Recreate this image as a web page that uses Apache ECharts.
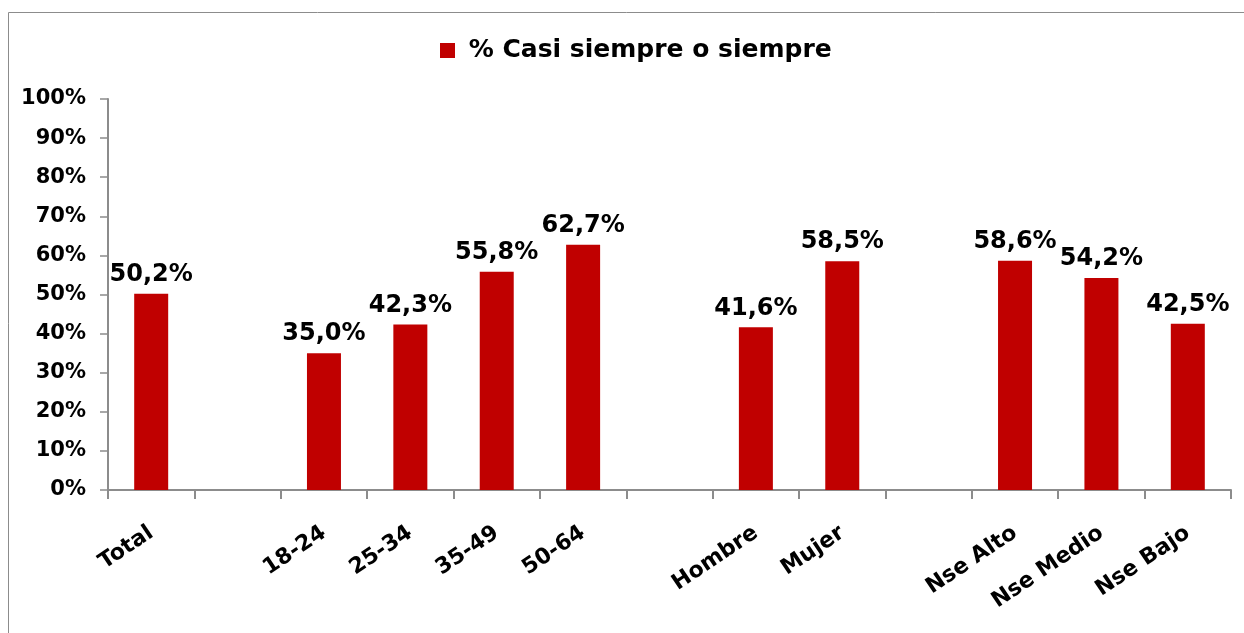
<!DOCTYPE html>
<html>
<head>
<meta charset="utf-8">
<script src="https://cdn.jsdelivr.net/npm/echarts@6/dist/echarts.min.js"></script>
<style>
  html, body { margin: 0; padding: 0; background: #fff; }
  #chart { width: 1244px; height: 633px; }
</style>
</head>
<body>
<div id="chart"></div>
<script>
// categorias (los vacios son separadores entre grupos)
var categorias = ['Total', '', '18-24', '25-34', '35-49', '50-64', '', 'Hombre', 'Mujer', '', 'Nse Alto', 'Nse Medio', 'Nse Bajo'];
var valores = [50.2, null, 35.0, 42.3, 55.8, 62.7, null, 41.6, 58.5, null, 58.6, 54.2, 42.5];
var serieNombre = '% Casi siempre o siempre';
var yTicks = [0, 10, 20, 30, 40, 50, 60, 70, 80, 90, 100];

var fuente = 'DejaVu Sans';
var myChart = echarts.init(document.getElementById('chart'));

var option = {
    animation: false,
    textStyle: { fontFamily: fuente },
    graphic: [{
        type: 'rect',
        shape: { x: 8.5, y: 12.5, width: 1300, height: 700 },
        style: { fill: 'none', stroke: '#8c8c8c', lineWidth: 1 }
    }],
    legend: {
        data: [serieNombre],
        top: 33,
        left: 435,
        icon: 'rect',
        itemWidth: 15,
        itemHeight: 15,
        itemGap: 13,
        formatter: function (n) { return ' ' + n; },
        textStyle: { fontSize: 25, fontWeight: 'bold', color: '#000', fontFamily: fuente }
    },
    grid: {
        left: 108,
        right: 13,
        top: 99,
        bottom: 143
    },
    xAxis: {
        type: 'category',
        data: categorias,
        axisLine: { lineStyle: { color: '#8c8c8c', width: 2 } },
        axisTick: { show: true, length: 9, lineStyle: { color: '#8c8c8c', width: 2 } },
        axisLabel: {
            interval: 0,
            rotate: 34,
            margin: 41,
            fontSize: 22,
            fontWeight: 'bold',
            color: '#000'
        }
    },
    yAxis: {
        type: 'value',
        min: 0,
        max: 100,
        interval: 10,
        splitLine: { show: false },
        axisLine: { show: true, lineStyle: { color: '#8c8c8c', width: 2 } },
        axisTick: { show: true, length: 8, lineStyle: { color: '#8c8c8c', width: 1.5 } },
        axisLabel: {
            margin: 22,
            fontSize: 21,
            fontWeight: 'bold',
            color: '#000',
            formatter: function (v) { return yTicks.indexOf(v) >= 0 ? v + '%' : ''; }
        }
    },
    series: [{
        name: serieNombre,
        type: 'bar',
        data: valores,
        barWidth: 34,
        itemStyle: { color: '#C00000' },
        label: {
            show: true,
            position: 'top',
            distance: 7,
            fontSize: 24,
            fontWeight: 'bold',
            color: '#000',
            formatter: function (p) { return p.value.toFixed(1).replace('.', ',') + '%'; }
        }
    }]
};

myChart.setOption(option);
</script>
</body>
</html>
